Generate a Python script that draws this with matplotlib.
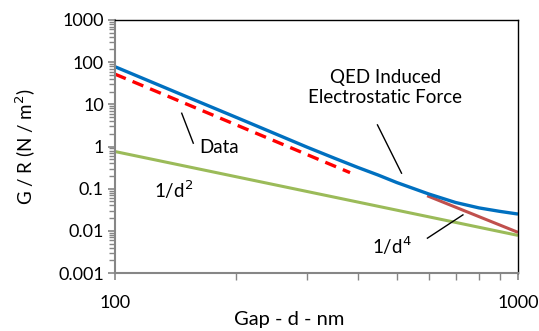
import matplotlib
matplotlib.use('Agg')
from matplotlib import pyplot as plt
from matplotlib.ticker import LogLocator, NullFormatter, FixedLocator, FixedFormatter

plt.rcParams['font.family'] = ['Lato', 'DejaVu Sans']

# QED induced electrostatic force (blue)
qed_gap = [100, 150, 200, 250, 300, 350, 400, 450, 500, 600, 700, 800, 900, 1000]
qed_val = [78, 15.4, 4.9, 2.0, 0.96, 0.53, 0.32, 0.21, 0.14, 0.075, 0.047, 0.035, 0.029, 0.025]

# measured data (red dashed)
data_gap = [100, 150, 200, 250, 300, 383]
data_val = [52, 10.3, 3.25, 1.33, 0.64, 0.24]

# 1/d^2 reference (green)
d2_gap = [100, 1000]
d2_val = [0.76, 0.0078]

# 1/d^4 reference (dark red)
d4_gap = [595, 1000]
d4_val = [0.068, 0.0092]

y_ticks = [0.001, 0.01, 0.1, 1, 10, 100, 1000]
y_tick_labels = ['0.001', '0.01', '0.1', '1', '10', '100', '1000']
x_ticks = [100, 1000]
x_tick_labels = ['100', '1000']

fig = plt.figure(figsize=(5.39, 3.31), dpi=100)
ax = fig.add_axes([115/539, 58/331, 403/539, 253/331])

ax.plot(d2_gap, d2_val, color='#9BBB59', lw=2.2, solid_capstyle='butt')
ax.plot(d4_gap, d4_val, color='#C0504D', lw=2.2, solid_capstyle='butt')
ax.plot(qed_gap, qed_val, color='#0070C0', lw=2.4, solid_capstyle='butt')
ax.plot(data_gap, data_val, color='#FF0000', lw=2.4, dashes=(3.5, 2.2))

ax.set_xscale('log')
ax.set_yscale('log')
ax.set_xlim(100, 1000)
ax.set_ylim(0.001, 1000)

ax.yaxis.set_major_locator(FixedLocator(y_ticks))
ax.yaxis.set_major_formatter(FixedFormatter(y_tick_labels))
ax.yaxis.set_minor_locator(LogLocator(base=10, subs=range(2, 10), numticks=20))
ax.yaxis.set_minor_formatter(NullFormatter())
ax.xaxis.set_major_locator(FixedLocator(x_ticks))
ax.xaxis.set_major_formatter(FixedFormatter(x_tick_labels))
ax.xaxis.set_minor_locator(LogLocator(base=10, subs=range(2, 10), numticks=20))
ax.xaxis.set_minor_formatter(NullFormatter())

gray = '#868686'
for s in ['left', 'bottom']:
    ax.spines[s].set_color(gray)
    ax.spines[s].set_linewidth(1.5)
for s in ['top', 'right']:
    ax.spines[s].set_color('black')
    ax.spines[s].set_linewidth(1.0)

ax.tick_params(axis='y', which='major', direction='out', length=5, width=1.2, color=gray,
               labelsize=13, pad=3)
ax.tick_params(axis='y', which='minor', direction='out', length=4, width=1.0, color=gray)
ax.tick_params(axis='x', which='major', direction='out', length=5, width=1.2, color=gray,
               labelsize=13, pad=11)
ax.tick_params(axis='x', which='minor', direction='out', length=5, width=1.0, color=gray)

ax.set_ylabel('G / R (N / m$^2$)', fontsize=13.5)
ax.yaxis.set_label_coords(-0.19, 0.5)
ax.set_xlabel('Gap - d - nm', fontsize=14.5)
ax.xaxis.set_label_coords((289 - 115) / 403, -0.15)

# annotations
ax.text(181, 0.93, 'Data', fontsize=13.5, ha='center', va='center')
ax.plot([146.4, 156.4], [6.15, 1.2], color='black', lw=1.0)
ax.text(140, 0.094, '1/d$^2$', fontsize=13.5, ha='center', va='center')
ax.text(468, 25, 'QED Induced\nElectrostatic Force', fontsize=13.5, ha='center', va='center',
        linespacing=1.25)
ax.plot([448, 514], [3.25, 0.233], color='black', lw=1.0)
ax.text(486, 0.0044, '1/d$^4$', fontsize=13.5, ha='center', va='center')
ax.plot([596, 730], [0.0067, 0.0239], color='black', lw=1.0)

fig.savefig('out.png', dpi=100)
